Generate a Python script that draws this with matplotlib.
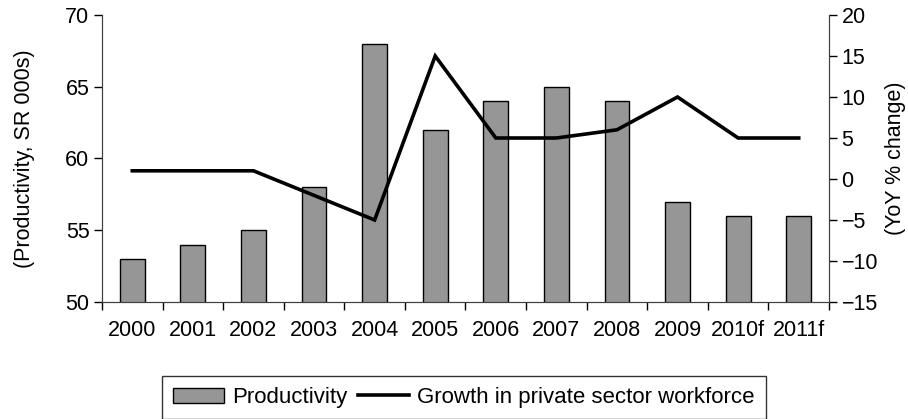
import matplotlib
matplotlib.use("Agg")
import matplotlib.pyplot as plt
import numpy as np

plt.rcParams['font.family'] = ['Liberation Sans', 'DejaVu Sans']

years = ['2000', '2001', '2002', '2003', '2004', '2005', '2006', '2007', '2008', '2009', '2010f', '2011f']
productivity = [53, 54, 55, 58, 68, 62, 64, 65, 64, 57, 56, 56]
growth = [1, 1, 1, -2, -5, 15, 5, 5, 6, 10, 5, 5]

FS = 15.5
W, H = 908, 419
fig = plt.figure(figsize=(W / 100, H / 100), dpi=100)
ax = fig.add_axes([102 / W, 1 - 302 / H, (829 - 102) / W, (302 - 15) / H])
x = np.arange(len(years))

bars = ax.bar(x, productivity, width=0.41, bottom=0, color='#969696', edgecolor='black',
              linewidth=1.0, label='Productivity', zorder=2)
ax.set_ylim(50, 70)
ax.set_yticks([50, 55, 60, 65, 70])
ax.set_xlim(-0.5, len(years) - 0.5)
ax.set_xticks(x)
ax.set_xticklabels(years)
ax.set_xticks(np.arange(-0.5, len(years)), minor=True)
ax.tick_params(axis='x', which='major', length=0, pad=13, labelsize=FS)
ax.tick_params(axis='x', which='minor', length=6, width=1, direction='out')
ax.tick_params(axis='y', length=6, width=1, direction='out', labelsize=FS, pad=3)
ax.set_ylabel('(Productivity, SR 000s)', fontsize=FS, labelpad=22)
ax.spines['top'].set_visible(False)
for s in ['left', 'bottom', 'right']:
    ax.spines[s].set_color('#404040')

ax2 = ax.twinx()
line, = ax2.plot(x, growth, color='black', linewidth=2.6, label='Growth in private sector workforce',
                 solid_joinstyle='miter', zorder=3)
ax2.set_ylim(-15, 20)
ax2.set_yticks([-15, -10, -5, 0, 5, 10, 15, 20])
ax2.tick_params(axis='y', length=6, width=1, direction='out', labelsize=FS, pad=3)
ax2.set_ylabel('(YoY % change)', fontsize=FS, labelpad=5)
ax2.spines['top'].set_visible(False)
for s in ['left', 'bottom', 'right']:
    ax2.spines[s].set_color('#404040')

leg = fig.legend([bars, line], ['Productivity', 'Growth in private sector workforce'],
                 loc='upper left', bbox_to_anchor=(162 / W, 1 - 376 / H),
                 bbox_transform=fig.transFigure, borderaxespad=0, ncol=2, fontsize=16,
                 frameon=True, fancybox=False, edgecolor='black', handlelength=2.3,
                 handletextpad=0.35, columnspacing=0.5, borderpad=0.5)
leg.get_frame().set_linewidth(1.0)

fig.savefig('out.png', dpi=100)
